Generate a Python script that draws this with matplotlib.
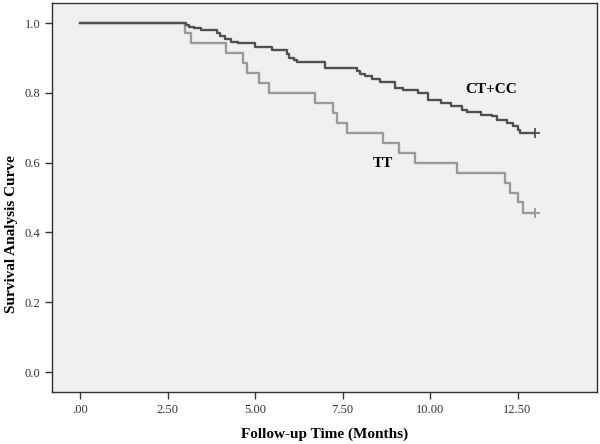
import matplotlib
matplotlib.use("Agg")
import matplotlib.pyplot as plt

# Kaplan-Meier style step data (event times in months, survival after each event)
ctcc_times = [3.02, 3.1, 3.25, 3.45, 3.9, 4.0, 4.15, 4.3, 4.5, 5.0, 5.48, 5.9, 5.98, 6.1, 6.2,
              7.0, 7.9, 8.0, 8.15, 8.35, 8.57, 9.0, 9.23, 9.66, 9.95, 10.3, 10.6, 10.9, 11.06,
              11.45, 11.76, 11.9, 12.19, 12.38, 12.52, 12.57]
ctcc_surv = [0.995, 0.990, 0.985, 0.980, 0.972, 0.962, 0.955, 0.947, 0.942, 0.932, 0.923, 0.912,
             0.899, 0.893, 0.887, 0.870, 0.862, 0.855, 0.847, 0.839, 0.830, 0.813, 0.807, 0.800,
             0.780, 0.770, 0.761, 0.751, 0.746, 0.737, 0.733, 0.723, 0.713, 0.704, 0.694, 0.685]

tt_times = [3.0, 3.17, 4.16, 4.67, 4.77, 5.1, 5.4, 6.7, 7.22, 7.33, 7.62, 8.67, 9.1, 9.57,
            10.76, 12.14, 12.29, 12.52, 12.67]
tt_surv = [0.971, 0.943, 0.914, 0.886, 0.857, 0.829, 0.800, 0.771, 0.743, 0.714, 0.686, 0.657,
           0.629, 0.600, 0.571, 0.543, 0.514, 0.486, 0.457]

end_time = 13.0
xticks = [0, 2.5, 5, 7.5, 10, 12.5]
xtick_labels = [".00", "2.50", "5.00", "7.50", "10.00", "12.50"]
yticks = [0.0, 0.2, 0.4, 0.6, 0.8, 1.0]
ytick_labels = ["0.0", "0.2", "0.4", "0.6", "0.8", "1.0"]

plt.rcParams["font.family"] = ["Liberation Serif", "DejaVu Serif"]

fig = plt.figure(figsize=(6, 4.44), dpi=100)
ax = fig.add_axes([0.0867, 0.117, 0.9083, 0.876])
ax.set_facecolor("#f0f0f0")


def km_line(times, surv, color):
    xs = [0] + times + [end_time]
    ys = [1.0] + surv + [surv[-1]]
    ax.step(xs, ys, where="post", color=color, lw=1.7)
    ax.plot([end_time], [surv[-1]], marker="+", color=color, ms=7, mew=1.3)


km_line(tt_times, tt_surv, "#9a9a9a")
km_line(ctcc_times, ctcc_surv, "#505050")

ax.text(11.74, 0.81, "CT+CC", fontsize=11, fontweight="bold", ha="center", va="center")
ax.text(8.66, 0.597, "TT", fontsize=11, fontweight="bold", ha="center", va="center")

ax.set_xlim(-0.8, 14.77)
ax.set_ylim(-0.057, 1.057)
ax.set_xticks(xticks)
ax.set_xticklabels(xtick_labels)
ax.set_yticks(yticks)
ax.set_yticklabels(ytick_labels)
ax.tick_params(direction="out", length=5, width=1, labelsize=9, colors="#333333")

for s in ax.spines.values():
    s.set_color("#333333")
    s.set_linewidth(1)

ax.set_xlabel("Follow-up Time (Months)", fontsize=11, fontweight="bold")
ax.set_ylabel("Survival Analysis Curve", fontsize=11, fontweight="bold")
ax.yaxis.set_label_coords(-0.062, 0.405)
ax.xaxis.set_label_coords(0.5, -0.09)

fig.savefig("out.png", dpi=100)
